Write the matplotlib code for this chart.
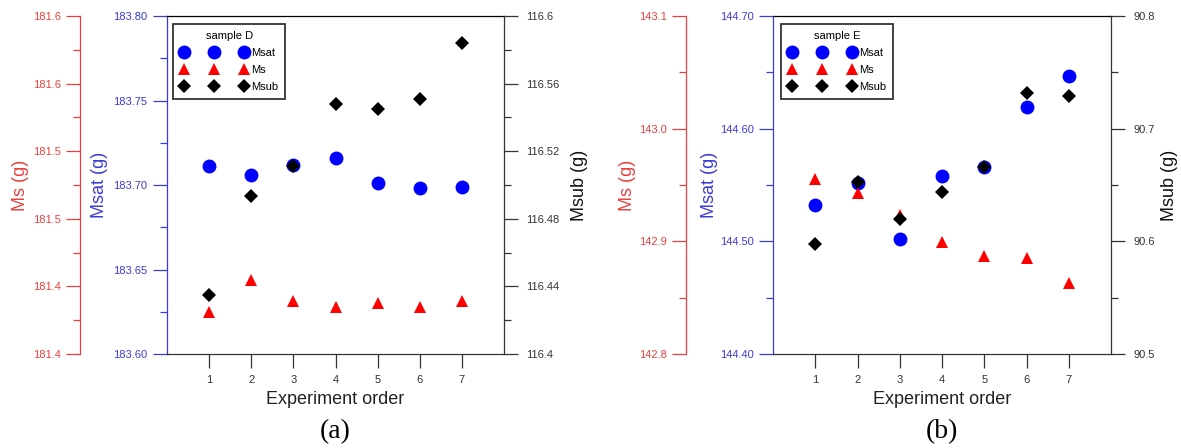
import matplotlib
matplotlib.use("Agg")
import matplotlib.pyplot as plt
from matplotlib.ticker import MultipleLocator, FuncFormatter
from matplotlib.lines import Line2D

plt.rcParams['font.family'] = ['Liberation Sans', 'DejaVu Sans']

# ---------------- data ----------------
experiment = [1, 2, 3, 4, 5, 6, 7]

msat_d = [183.711, 183.706, 183.712, 183.716, 183.701, 183.698, 183.699]
ms_d = [181.425, 181.444, 181.4315, 181.428, 181.430, 181.428, 181.4315]
msub_d = [116.435, 116.4935, 116.511, 116.548, 116.545, 116.551, 116.584]

msat_e = [144.532, 144.5515, 144.502, 144.558, 144.5657, 144.6195, 144.6465]
ms_e = [142.955, 142.9426, 142.923, 142.8997, 142.887, 142.8855, 142.8628]
msub_e = [90.598, 90.653, 90.6195, 90.6435, 90.6657, 90.7317, 90.729]

x_ticks = [1, 2, 3, 4, 5, 6, 7]
series_names = ["Msat", "Ms", "Msub"]
sample_names = ["sample D", "sample E"]
panel_tags = ["(a)", "(b)"]

# ---------------- style ----------------
RED_MK = '#ff0000'
BLUE_MK = '#0000ff'
RED_AX = '#e8403f'
BLUE_AX = '#3b3bd6'
DARK = '#333333'

W, H = 1181, 448
fig = plt.figure(figsize=(W / 100, H / 100), dpi=100)


def px_axes(l, t, r, b):
    return fig.add_axes([l / W, 1 - b / H, (r - l) / W, (b - t) / H])


def make_panel(box, msat, ms, msub, lims, majors, minors, fmts,
               ms_spine_x, ms_label_x, msat_label_x, msub_label_x,
               sample, tag, leg_anchor):
    l, t, r, b = box
    ax = px_axes(l, t, r, b)
    ax_s = ax.twinx()
    ax_sub = ax.twinx()

    # Msat (main, left blue)
    ax.plot(experiment, msat, 'o', color=BLUE_MK, ms=10, mew=0, zorder=3)
    ax.set_xlim(0, 8)
    ax.set_ylim(*lims[0])
    ax.yaxis.set_major_locator(MultipleLocator(majors[0]))
    ax.yaxis.set_minor_locator(MultipleLocator(minors[0]))
    ax.yaxis.set_major_formatter(FuncFormatter(lambda v, p, f=fmts[0]: f % v))
    ax.tick_params(axis='y', which='major', direction='out', length=10,
                   width=0.9, color=BLUE_AX, labelcolor=BLUE_AX, labelsize=8, pad=4)
    ax.tick_params(axis='y', which='minor', direction='out', length=5,
                   width=0.9, color=BLUE_AX)
    ax.spines['left'].set_color(BLUE_AX)
    ax.spines['right'].set_visible(False)
    ax.spines['top'].set_color('black')
    ax.spines['bottom'].set_color(DARK)
    for s in ax.spines.values():
        s.set_linewidth(0.9)
    ax.set_xticks(x_ticks)
    ax.tick_params(axis='x', direction='out', length=10, width=0.9,
                   color=DARK, labelsize=8, labelcolor=DARK, pad=5)
    ax.set_xlabel('Experiment order', fontsize=13, color='#222222')
    ax.xaxis.set_label_coords(0.5, -0.108)
    ax.set_ylabel('Msat (g)', fontsize=13, color=BLUE_AX)
    ax.yaxis.set_label_coords(msat_label_x, 0.5)

    # Ms (outer left red)
    ax_s.plot(experiment, ms, '^', color=RED_MK, ms=8.5, mew=0, zorder=3)
    ax_s.set_ylim(*lims[1])
    ax_s.yaxis.set_label_position('left')
    ax_s.yaxis.set_ticks_position('left')
    ax_s.spines['left'].set_position(('axes', ms_spine_x))
    ax_s.spines['left'].set_visible(True)
    ax_s.spines['left'].set_color(RED_AX)
    ax_s.spines['left'].set_linewidth(0.9)
    for k in ['right', 'top', 'bottom']:
        ax_s.spines[k].set_visible(False)
    ax_s.yaxis.set_major_locator(MultipleLocator(majors[1]))
    ax_s.yaxis.set_minor_locator(MultipleLocator(minors[1]))
    ax_s.yaxis.set_major_formatter(FuncFormatter(lambda v, p, f=fmts[1]: f % v))
    ax_s.tick_params(axis='y', which='major', direction='out', length=10,
                     width=0.9, color=RED_AX, labelcolor=RED_AX, labelsize=8, pad=4)
    ax_s.tick_params(axis='y', which='minor', direction='out', length=5,
                     width=0.9, color=RED_AX)
    ax_s.set_ylabel('Ms (g)', fontsize=13, color=RED_AX)
    ax_s.yaxis.set_label_coords(ms_label_x, 0.5)

    # Msub (right black)
    ax_sub.plot(experiment, msub, 'D', color='black', ms=6.8, mew=0, zorder=3)
    ax_sub.set_ylim(*lims[2])
    for k in ['left', 'top', 'bottom']:
        ax_sub.spines[k].set_visible(False)
    ax_sub.spines['right'].set_color(DARK)
    ax_sub.spines['right'].set_linewidth(0.9)
    ax_sub.yaxis.set_major_locator(MultipleLocator(majors[2]))
    ax_sub.yaxis.set_minor_locator(MultipleLocator(minors[2]))
    ax_sub.yaxis.set_major_formatter(
        FuncFormatter(lambda v, p: ('%.2f' % v).rstrip('0').rstrip('.')))
    ax_sub.tick_params(axis='y', which='major', direction='out', length=10,
                       width=0.9, color=DARK, labelcolor=DARK, labelsize=8, pad=6)
    ax_sub.tick_params(axis='y', which='minor', direction='out', length=5,
                       width=0.9, color=DARK)
    ax_sub.set_ylabel('Msub (g)', fontsize=13, color='#111111', rotation=90)
    ax_sub.yaxis.set_label_coords(msub_label_x, 0.5)

    handles = [
        Line2D([], [], ls='none', marker='o', color=BLUE_MK, ms=10, mew=0),
        Line2D([], [], ls='none', marker='^', color=RED_MK, ms=8.5, mew=0),
        Line2D([], [], ls='none', marker='D', color='black', ms=6.8, mew=0),
    ]
    leg = ax_sub.legend(handles, series_names, title=sample, loc='upper left',
                        bbox_to_anchor=leg_anchor, borderaxespad=0,
                        numpoints=3, handlelength=6.0, handletextpad=0.35,
                        handleheight=1.0,
                        fontsize=8, title_fontsize=8, fancybox=False,
                        framealpha=1, edgecolor='#333333', labelspacing=0.55,
                        borderpad=0.65)
    leg.get_frame().set_linewidth(1.3)
    leg.set_zorder(10)

    fig.text((l + r) / 2 / W, 1 - 432 / H, tag, fontsize=20,
             family=['Liberation Serif', 'DejaVu Serif'], ha='center', va='center')


make_panel((167, 16, 504, 354), msat_d, ms_d, msub_d,
           lims=[(183.60, 183.80), (181.40, 181.60), (116.40, 116.60)],
           majors=[0.05, 0.04, 0.04], minors=[0.025, 0.02, 0.02],
           fmts=['%.2f', '%.1f'],
           ms_spine_x=-0.258, ms_label_x=-0.41, msat_label_x=-0.175,
           msub_label_x=1.199, sample=sample_names[0], tag=panel_tags[0],
           leg_anchor=(0.018, 0.976))

make_panel((773, 16, 1111, 354), msat_e, ms_e, msub_e,
           lims=[(144.40, 144.70), (142.80, 143.10), (90.50, 90.80)],
           majors=[0.1, 0.1, 0.1], minors=[0.05, 0.05, 0.05],
           fmts=['%.2f', '%.1f'],
           ms_spine_x=-0.257, ms_label_x=-0.405, msat_label_x=-0.163,
           msub_label_x=1.148, sample=sample_names[1], tag=panel_tags[1],
           leg_anchor=(0.024, 0.976))

fig.savefig('out.png', dpi=100)
